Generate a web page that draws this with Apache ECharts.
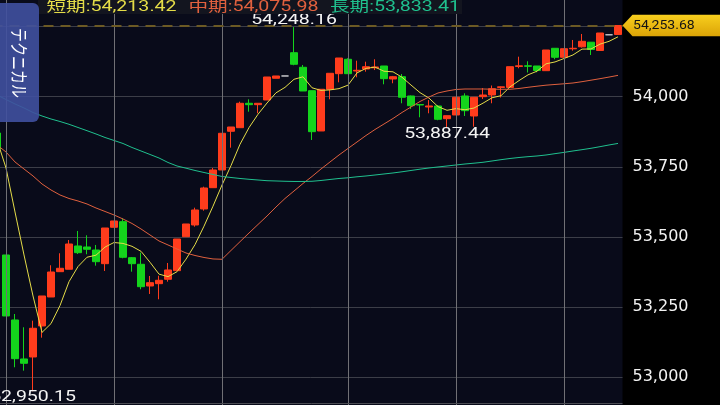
<!DOCTYPE html>
<html>
<head>
<meta charset="utf-8">
<script src="https://cdn.jsdelivr.net/npm/echarts@6/dist/echarts.min.js"></script>
<style>
html,body{margin:0;padding:0;background:#000;}
#c{width:720px;height:405px;}
</style>
</head>
<body>
<div id="c"></div>
<script>
// ---- data ----
const categories = ['1','2','3','4','5','6','7','8','9','10','11','12','13','14','15','16','17','18','19','20',
'21','22','23','24','25','26','27','28','29','30','31','32','33','34','35','36','37','38','39','40',
'41','42','43','44','45','46','47','48','49','50','51','52','53','54','55','56','57','58','59','60',
'61','62','63','64','65','66','67','68','69','70'];

const opens = [53870.6,53435.8,53204.2,53065.2,53072.3,53182.8,53286.1,53376.3,53384.9,53467.9,
53464.3,53453.6,53404.8,53534.5,53554.5,53426.2,53402.7,53325.3,53333.5,53349.2,
53379.9,53501.0,53542.7,53599.8,53675.7,53738.8,53876.7,53889.5,53976.5,53971.5,
53988.2,54065.6,54073.8,54156.8,54104.8,54021.4,53877.8,54026.4,54082.0,54133.3,
54091.6,54098.7,54103.0,54109.4,54063.1,54071.3,54002.5,53972.2,53963.3,53966.9,
53921.6,53934.8,54002.5,53931.2,54000.0,54006.1,54032.8,54032.8,54107.6,54110.1,
54109.4,54092.7,54172.5,54140.4,54170.7,54177.8,54194.2,54164.7,54220.6,54221.7];

const closes = [53813.6,53218.4,53066.2,53049.8,53174.6,53289.7,53375.2,53388.4,53475.0,53444.0,
53456.1,53411.9,53532.0,53557.0,53427.6,53404.8,53322.8,53337.1,53345.6,53382.4,
53492.8,53546.3,53596.2,53674.6,53738.8,53869.6,53892.0,53976.5,53971.5,53976.5,
54070.2,54073.8,54073.8,54115.5,54020.3,53875.3,54026.4,54083.4,54137.9,54082.0,
54094.1,54106.9,54106.0,54064.2,54071.3,53997.9,53967.9,53970.4,53966.9,53919.5,
53932.3,53997.9,53950.1,53997.9,54006.0,54028.5,54035.3,54106.9,54110.1,54108.3,
54093.4,54166.4,54140.4,54171.0,54172.5,54197.4,54168.2,54227.0,54220.6,54253.68];

const lows = [53813.6,53218.4,53035.6,53023.5,52950.15,53141.1,53286.1,53376.3,53384.9,53439.4,
53438.3,53397.7,53378.8,53534.5,53424.0,53376.3,53313.6,53296.8,53277.9,53340.7,
53379.9,53501.0,53536.7,53593.7,53675.7,53738.8,53818.2,53889.5,53946.5,53940.8,
53988.2,54065.6,54073.8,54112.0,54020.3,53845.7,53877.8,53990.7,54051.3,54082.0,
54069.1,54089.1,54095.0,54044.2,54047.8,53976.5,53956.2,53926.6,53940.8,53916.0,
53887.44,53934.8,53931.2,53893.1,53991.8,53976.5,53997.1,54032.8,54101.2,54086.2,
54087.0,54092.7,54133.3,54140.4,54163.9,54175.0,54148.6,54164.7,54220.6,54221.7];

const highs = [53870.6,53435.8,53225.5,53178.1,53201.7,53289.7,53399.1,53441.9,53489.3,53521.4,
53506.0,53471.5,53532.0,53557.0,53566.6,53428.7,53444.0,53361.0,53362.0,53407.3,
53492.8,53546.3,53604.4,53679.2,53745.9,53869.6,53892.0,53982.2,53990.7,53976.5,
54070.2,54073.8,54073.8,54248.16,54113.0,54021.4,54026.4,54083.4,54137.9,54137.0,
54128.3,54124.7,54133.3,54109.4,54074.0,54080.9,54004.0,53974.0,53988.0,53970.0,
53932.3,53997.9,54012.1,53997.9,54031.0,54039.9,54037.0,54106.9,54142.6,54126.2,
54109.4,54166.4,54172.5,54171.0,54202.1,54223.5,54194.2,54227.0,54220.6,54253.68];

const maShort = [53845.7,53745.9,53589.1,53435.8,53289.7,53159.8,53191.2,53255.6,53340.6,53394.5,
53427.8,53435.1,53463.9,53480.3,53477.0,53466.7,53448.9,53409.9,53367.6,53358.6,
53376.2,53420.9,53472.7,53538.5,53609.8,53685.2,53754.3,53830.4,53889.7,53937.3,
53977.4,54013.8,54033.2,54062.0,54070.8,54031.8,54022.3,54024.2,54028.7,54041.1,
54084.8,54100.9,54105.4,54090.7,54088.6,54069.3,54041.5,54014.4,53994.9,53964.6,
53951.5,53957.5,53953.4,53959.6,53976.9,53996.1,54003.6,54035.0,54057.4,54077.9,
54090.9,54117.1,54123.8,54136.0,54148.8,54169.6,54170.0,54187.3,54197.2,54213.42];

const maMid = [53827.9,53802.9,53767.3,53742.3,53717.4,53688.9,53667.5,53649.7,53637.2,53628.3,
53617.6,53603.3,53590.9,53578.4,53564.1,53548.1,53528.5,53507.1,53485.7,53471.5,
53457.2,53442.9,53434.0,53426.9,53421.6,53420.5,53451.9,53483.2,53514.2,53544.5,
53574.8,53606.9,53637.2,53663.9,53690.6,53715.6,53742.3,53767.3,53792.2,53815.4,
53838.5,53861.7,53883.1,53902.7,53922.3,53943.7,53963.3,53982.9,53998.9,54013.2,
54020.3,54025.7,54027.4,54027.4,54027.4,54026.7,54026.4,54026.4,54029.2,54033.5,
54037.4,54041.0,54043.5,54046.0,54048.8,54053.5,54058.8,54064.2,54069.9,54075.98];

const maLong = [54006.1,53990.0,53974.0,53959.7,53943.7,53931.2,53920.5,53911.6,53901.6,53890.2,
53878.8,53867.1,53854.6,53843.9,53833.2,53818.9,53806.5,53794.0,53781.5,53765.5,
53753.0,53745.2,53737.0,53729.8,53722.7,53715.6,53712.0,53708.5,53705.6,53703.1,
53700.6,53699.6,53698.5,53697.8,53697.8,53698.5,53701.3,53704.9,53708.5,53711.0,
53714.5,53717.4,53720.9,53724.5,53728.1,53732.3,53737.0,53741.6,53745.9,53749.5,
53753.0,53756.6,53760.1,53763.0,53766.2,53770.8,53775.5,53779.7,53783.3,53786.2,
53788.7,53792.2,53796.9,53801.5,53806.5,53811.1,53816.1,53821.8,53827.9,53833.41];

const yTickValues = [53000, 53250, 53500, 53750, 54000];
const yTickLabels = ['53,000', '53,250', '53,500', '53,750', '54,000'];
const timeGridCategories = ['2', '14', '26', '40', '52', '64'];
const legendNames = ['短期', '中期', '長期'];
const tabLabel = 'テクニカル';
const labelledHighValues = [54248.16];
const labelledLowValues = [52950.15, 53887.44];

// ---- styling ----
const C_UP = '#ff3c1c', C_DOWN = '#14d41c';
const C_SHORT = '#e4dc48', C_MID = '#e0603e', C_LONG = '#1fc08e';
const GRID = {left: -7.5, right: 97.5, top: -43.6, bottom: -42.4};

function fmt2(v) {
  const s = v.toFixed(2).split('.');
  return s[0].replace(/\B(?=(\d{3})+(?!\d))/g, ',') + '.' + s[1];
}

const chart = echarts.init(document.getElementById('c'), null, {renderer: 'canvas'});
const last = closes.length - 1;

const option = {
  animation: false,
  backgroundColor: '#000000',
  grid: Object.assign({show: true, backgroundColor: '#090b1a', borderWidth: 0,
    containLabel: false, outerBoundsMode: 'none'}, GRID),
  xAxis: {
    type: 'category', data: categories, boundaryGap: true,
    axisLine: {show: false}, axisTick: {show: false}, axisLabel: {show: false}, splitLine: {show: false}
  },
  yAxis: {
    type: 'value', position: 'right', min: 52750, max: 54500, interval: 250,
    axisLine: {show: false}, axisTick: {show: false},
    splitLine: {show: true, lineStyle: {color: '#3c3e48', width: 1}},
    axisLabel: {
      color: '#f2f2f2', fontSize: 16, fontFamily: 'DejaVu Sans', margin: 10,
      formatter: function (v) { const i = yTickValues.indexOf(v); return i >= 0 ? yTickLabels[i] : ''; }
    }
  },
  series: [
    {
      name: 'timegrid', type: 'line', data: categories.map(function () { return null; }),
      z: 1, silent: true, showSymbol: false, lineStyle: {opacity: 0},
      markLine: {
        silent: true, symbol: ['none', 'none'], label: {show: false},
        lineStyle: {color: '#707075', width: 1, type: 'solid'},
        data: timeGridCategories.map(function (c) { return {xAxis: c}; })
      }
    },
    {
      name: 'price', type: 'candlestick', z: 3, barWidth: 7,
      data: categories.map(function (c, i) { return [opens[i], closes[i], lows[i], highs[i]]; }),
      itemStyle: {
        color: C_UP, color0: C_DOWN, borderColor: C_UP, borderColor0: C_DOWN,
        borderColorDoji: '#c8c8cc', borderWidth: 1
      },
      markLine: {
        silent: true, symbol: ['none', 'none'], label: {show: false},
        lineStyle: {color: '#6c5a24', width: 2, type: [10, 7]},
        data: [{yAxis: closes[last]}]
      }
    },
    {name: legendNames[0], type: 'line', z: 4, data: maShort, showSymbol: false, smooth: false,
      lineStyle: {color: C_SHORT, width: 1}},
    {name: legendNames[1], type: 'line', z: 4, data: maMid, showSymbol: false, smooth: false,
      lineStyle: {color: C_MID, width: 1}},
    {name: legendNames[2], type: 'line', z: 4, data: maLong, showSymbol: false, smooth: false,
      lineStyle: {color: C_LONG, width: 1}}
  ]
};
chart.setOption(option);

// ---- overlays positioned through the chart's own scales ----
const W = chart.getWidth();
const plotRight = W - GRID.right;
function px(i, v) { return chart.convertToPixel({gridIndex: 0}, [i, v]); }

const elements = [];
elements.push({type: 'line', z: 50, silent: true,
  shape: {x1: 0, y1: 403.5, x2: plotRight, y2: 403.5}, style: {stroke: '#4a4b52', lineWidth: 1}});

labelledHighValues.forEach(function (hv) {
  const i = highs.indexOf(hv);
  const p = px(i, highs[i]);
  elements.push({type: 'text', z: 60, silent: true, x: p[0], y: p[1] - 7, scaleX: 1.3,
    style: {text: fmt2(highs[i]), fill: '#f4f4f4', font: '15px Roboto', align: 'center', verticalAlign: 'middle'}});
});
labelledLowValues.forEach(function (lv) {
  const i = lows.indexOf(lv);
  const p = px(i, lows[i]);
  elements.push({type: 'text', z: 60, silent: true, x: p[0], y: p[1] + 6, scaleX: 1.3,
    style: {text: fmt2(lows[i]), fill: '#f4f4f4', font: '15px Roboto', align: 'center', verticalAlign: 'middle'}});
});

// legend bar
elements.push({type: 'rect', z: 70, silent: true, shape: {x: 38, y: 0, width: 424, height: 14},
  style: {fill: '#13151f'}});
const legendVals = [maShort[last], maMid[last], maLong[last]];
const legendCols = [C_SHORT, C_MID, C_LONG];
const legendX = [46.5, 188.5, 330];
legendNames.forEach(function (n, k) {
  elements.push({type: 'text', z: 71, silent: true, x: legendX[k], y: 7, scaleX: 1.4,
    style: {text: n + ':' + fmt2(legendVals[k]), fill: legendCols[k],
      font: '14px Roboto, "Noto Sans CJK JP"', align: 'left', verticalAlign: 'middle'}});
});

// side tab
elements.push({type: 'rect', z: 80, silent: true, shape: {x: -8, y: 3, width: 47, height: 119, r: 6},
  style: {fill: 'rgba(64,80,160,0.9)'}});
elements.push({type: 'text', z: 81, silent: true, x: 19, y: 63, rotation: -Math.PI / 2, scaleY: 1.3,
  style: {text: tabLabel, fill: '#ffffff', font: '14px "Noto Sans CJK JP"', align: 'center', verticalAlign: 'middle'}});

// last price tag
const pLast = px(last, closes[last]);
const ty = pLast[1];
elements.push({type: 'polygon', z: 90, silent: true,
  shape: {points: [[plotRight, ty], [plotRight + 10, ty - 10.8], [W, ty - 10.8], [W, ty + 10.8], [plotRight + 10, ty + 10.8]]},
  style: {fill: {type: 'linear', x: 0, y: 0, x2: 0, y2: 1,
    colorStops: [{offset: 0, color: '#f8cf1e'}, {offset: 1, color: '#dba306'}]}}});
elements.push({type: 'text', z: 91, silent: true, x: plotRight + 10.5, y: ty + 0.5, scaleX: 1.17,
  style: {text: fmt2(closes[last]), fill: '#141414', font: '12px Roboto', align: 'left', verticalAlign: 'middle'}});

chart.setOption({graphic: {elements: elements}});
</script>
</body>
</html>
